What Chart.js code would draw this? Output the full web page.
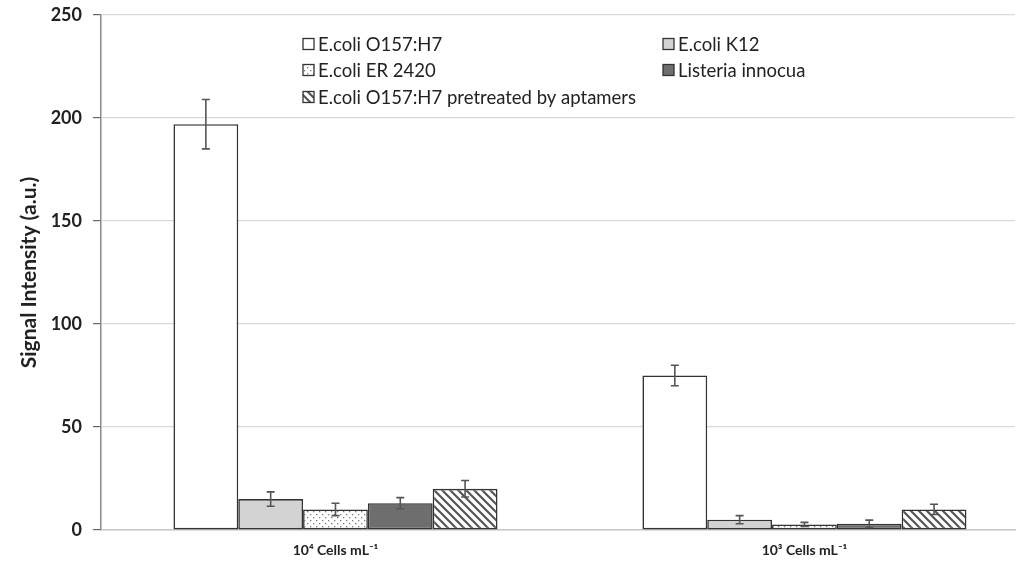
<!DOCTYPE html>
<html>
<head>
<meta charset="utf-8">
<script src="https://cdn.jsdelivr.net/npm/chart.js@4/dist/chart.umd.min.js"></script>
<style>
  html, body { margin: 0; padding: 0; background: #fff; overflow: hidden; }
  #wrap { position: relative; width: 1023px; height: 567px; }
</style>
</head>
<body>
<div id="wrap"><canvas id="c" width="1023" height="567"></canvas></div>
<script>
// Concentration groups on the x axis
const categories = ['10\u2074 Cells mL\u207B\u00B9', '10\u00B3 Cells mL\u207B\u00B9'];

// Strains tested
const seriesNames = [
  'E.coli O157:H7',
  'E.coli K12',
  'E.coli ER 2420',
  'Listeria innocua',
  'E.coli O157:H7 pretreated by aptamers'
];

// Mean signal intensity per strain, one value per concentration group
const o157Values      = [197, 75];
const k12Values       = [15, 5];
const er2420Values    = [10, 2.7];
const listeriaValues  = [13, 3];
const pretreatValues  = [20, 10];

// Standard deviations (error bars)
const o157Err     = [12, 5];
const k12Err      = [3.5, 2];
const er2420Err   = [3, 1];
const listeriaErr = [2.7, 1.8];
const pretreatErr = [4, 2.5];

// Y axis ticks
const yTicks = [0, 50, 100, 150, 200, 250];

const FONT = 'Lato, "Open Sans", sans-serif';

function makeDots() {
  const c = document.createElement('canvas');
  c.width = 6; c.height = 6;
  const g = c.getContext('2d');
  g.fillStyle = '#ffffff'; g.fillRect(0, 0, 6, 6);
  g.fillStyle = '#7a7a7a';
  g.fillRect(1, 1, 1.3, 1.3);
  g.fillRect(4, 4, 1.3, 1.3);
  return g.createPattern(c, 'repeat');
}
function makeHatch() {
  const s = 8;
  const c = document.createElement('canvas');
  c.width = s; c.height = s;
  const g = c.getContext('2d');
  g.fillStyle = '#ffffff'; g.fillRect(0, 0, s, s);
  g.strokeStyle = '#555555'; g.lineWidth = 2.2;
  g.beginPath();
  g.moveTo(-2, -2); g.lineTo(s + 2, s + 2);
  g.moveTo(-2 - s, -2); g.lineTo(2, s + 2);
  g.moveTo(s - 2, -2); g.lineTo(2 * s + 2, s + 2);
  g.stroke();
  return g.createPattern(c, 'repeat');
}

const fills = ['#ffffff', '#d3d3d3', makeDots(), '#6e6e6e', makeHatch()];
const allValues = [o157Values, k12Values, er2420Values, listeriaValues, pretreatValues];
const allErrors = [o157Err, k12Err, er2420Err, listeriaErr, pretreatErr];

const datasets = seriesNames.map((name, s) => ({
  label: name,
  data: allValues[s].map((v, i) => ({ x: i, y: v })),
  errors: allErrors[s],
  backgroundColor: fills[s],
  borderColor: '#333333',
  borderWidth: 1.6,
  borderSkipped: false,
  categoryPercentage: 0.691,
  barPercentage: 1.0
}));

// Error bars drawn from the dataset values through the y scale
const errorBars = {
  id: 'errorBars',
  afterDatasetsDraw(chart) {
    const ctx = chart.ctx;
    const ys = chart.scales.y;
    ctx.save();
    ctx.strokeStyle = '#555555';
    ctx.lineWidth = 1.6;
    chart.data.datasets.forEach((ds, di) => {
      const meta = chart.getDatasetMeta(di);
      meta.data.forEach((bar, i) => {
        const v = ds.data[i].y, e = ds.errors[i];
        const top = ys.getPixelForValue(v + e);
        const bot = ys.getPixelForValue(Math.max(v - e, 0));
        const x = bar.x;
        ctx.beginPath();
        ctx.moveTo(x, top); ctx.lineTo(x, bot);
        ctx.moveTo(x - 4, top); ctx.lineTo(x + 4, top);
        ctx.moveTo(x - 4, bot); ctx.lineTo(x + 4, bot);
        ctx.stroke();
      });
    });
    ctx.restore();
  }
};

// Two-column legend inside the plot area (row-major order)
const boxLegend = {
  id: 'boxLegend',
  afterDraw(chart) {
    const ctx = chart.ctx;
    const colX = [303, 663];
    const rowY = [44, 70, 97];
    ctx.save();
    ctx.font = '18.5px ' + FONT;
    ctx.textBaseline = 'middle';
    ctx.textAlign = 'left';
    chart.data.datasets.forEach((ds, i) => {
      const x = colX[i % 2], y = rowY[Math.floor(i / 2)];
      ctx.fillStyle = ds.backgroundColor;
      ctx.fillRect(x, y - 5.5, 11, 11);
      ctx.strokeStyle = '#333333';
      ctx.lineWidth = 1.3;
      ctx.strokeRect(x, y - 5.5, 11, 11);
      ctx.fillStyle = '#222222';
      ctx.fillText(ds.label, x + 15, y + 1);
    });
    ctx.restore();
  }
};

new Chart(document.getElementById('c'), {
  type: 'bar',
  data: { datasets },
  options: {
    responsive: false,
    animation: false,
    layout: { padding: { left: 0, right: 8, top: 15, bottom: 0 } },
    plugins: { legend: { display: false }, tooltip: { enabled: false } },
    scales: {
      x: {
        type: 'linear',
        offset: false,
        min: -0.5,
        max: 1.449,
        grid: { display: false, drawTicks: false, offset: false },
        border: { display: true, color: '#c8c8c8', width: 1.5 },
        afterBuildTicks(axis) { axis.ticks = categories.map((_, i) => ({ value: i })); },
        afterFit(axis) {
          axis.height = 37;
          axis.paddingLeft = 0;
          axis.paddingRight = 0;
        },
        ticks: {
          padding: 12,
          color: '#222222',
          font: { family: FONT, size: 14, weight: 'bold' },
          callback: (v) => categories[v]
        }
      },
      y: {
        min: 0,
        max: 250,
        afterBuildTicks(axis) { axis.ticks = yTicks.map(v => ({ value: v })); },
        afterFit(axis) {
          axis.width = 101;
          axis.paddingTop = 0;
          axis.paddingBottom = 0;
        },
        grid: { color: '#d9d9d9', lineWidth: 1.2, tickColor: '#666666', tickLength: 8 },
        border: { display: true, color: '#8a8a8a', width: 1.5 },
        ticks: {
          padding: 11,
          color: '#222222',
          font: { family: FONT, size: 18, weight: 'bold' }
        },
        title: {
          display: true,
          text: 'Signal Intensity (a.u.)',
          color: '#222222',
          padding: { top: 17, bottom: 0 },
          font: { family: FONT, size: 21, weight: 'bold' }
        }
      }
    }
  },
  plugins: [errorBars, boxLegend]
});
</script>
</body>
</html>
